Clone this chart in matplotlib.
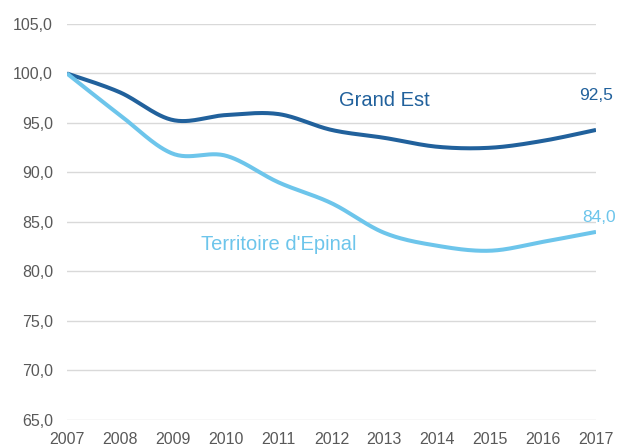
import numpy as np
import matplotlib
matplotlib.use("Agg")
import matplotlib.pyplot as plt

years = [2007, 2008, 2009, 2010, 2011, 2012, 2013, 2014, 2015, 2016, 2017]
grand_est = [100.0, 98.1, 95.3, 95.8, 95.9, 94.3, 93.5, 92.6, 92.5, 93.2, 94.3]
epinal = [100.0, 95.8, 91.9, 91.7, 89.0, 86.9, 83.9, 82.6, 82.1, 83.0, 84.0]
series_names = ["Grand Est", "Territoire d'Epinal"]
end_labels = ["92,5", "84,0"]
yticks = [65, 70, 75, 80, 85, 90, 95, 100, 105]

plt.rcParams['font.family'] = ['Liberation Sans', 'DejaVu Sans']

def smooth(x, y, n=30):
    x = np.asarray(x, float); y = np.asarray(y, float)
    P = np.column_stack([x, y])
    Pext = np.vstack([P[0], P, P[-1]])
    out = []
    t = np.linspace(0, 1, n)[:, None]
    for i in range(len(P) - 1):
        p0, p1, p2, p3 = Pext[i], Pext[i+1], Pext[i+2], Pext[i+3]
        c1 = p1 + (p2 - p0) / 6
        c2 = p2 - (p3 - p1) / 6
        seg = ((1-t)**3)*p1 + 3*((1-t)**2)*t*c1 + 3*(1-t)*t**2*c2 + t**3*p2
        out.append(seg if i == 0 else seg[1:])
    s = np.vstack(out)
    return s[:, 0], s[:, 1]

fig = plt.figure(figsize=(6.22, 4.47), dpi=100)
ax = fig.add_axes([67/622, 1-420/447, (596-67)/622, (420-24)/447])

c_dark = '#21619C'
c_light = '#6DC5EB'
gray = '#595959'

for vals, col in [(grand_est, c_dark), (epinal, c_light)]:
    xs, ys = smooth(years, vals)
    ax.plot(xs, ys, color=col, lw=2.9, solid_capstyle='butt', zorder=3)

ax.set_xlim(2007, 2017)
ax.set_ylim(65, 105)
ax.set_yticks(yticks)
ax.set_yticklabels([f"{v:.1f}".replace('.', ',') for v in yticks])
ax.set_xticks(years)
ax.set_xticklabels([str(y) for y in years])
ax.grid(axis='y', color='#D9D9D9', lw=1)
ax.set_axisbelow(True)
for s in ax.spines.values():
    s.set_visible(False)
ax.tick_params(axis='both', length=0, labelsize=11.5, labelcolor=gray)
ax.tick_params(axis='y', pad=10)
ax.tick_params(axis='x', pad=8.5)

ax.text(2013.0, 97.3, series_names[0], color=c_dark, fontsize=14.5, ha='center', va='center')
ax.text(2011.0, 82.7, series_names[1], color=c_light, fontsize=14.5, ha='center', va='center')
ax.text(2017.0, 97.8, end_labels[0], color=c_dark, fontsize=12.5, ha='center', va='center', clip_on=False)
ax.text(2017.05, 85.5, end_labels[1], color=c_light, fontsize=12.5, ha='center', va='center', clip_on=False)

fig.savefig("out.png", dpi=100)
